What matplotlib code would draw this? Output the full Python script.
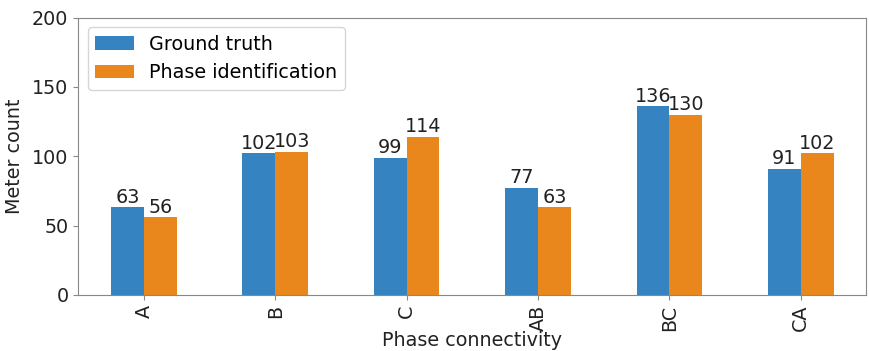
import matplotlib
matplotlib.use("Agg")
import matplotlib.pyplot as plt
import numpy as np

categories = ["A", "B", "C", "AB", "BC", "CA"]
ground_truth = [63, 102, 99, 77, 136, 91]
phase_identification = [56, 103, 114, 63, 130, 102]

blue = "#3584c1"
orange = "#e9871c"

fig = plt.figure(figsize=(8.69, 3.51), dpi=100)
ax = fig.add_axes([0.09, 0.16, 0.907, 0.79])

x = np.arange(len(categories))
w = 0.25
b1 = ax.bar(x - w / 2, ground_truth, w, color=blue, label="Ground truth")
b2 = ax.bar(x + w / 2, phase_identification, w, color=orange, label="Phase identification")

fs = 13.8
for bars in (b1, b2):
    for rect in bars:
        h = rect.get_height()
        ax.annotate(f"{int(h)}", (rect.get_x() + rect.get_width() / 2, h),
                    xytext=(0, 0.5), textcoords="offset points",
                    ha="center", va="bottom", fontsize=fs, color="#222222")

ax.set_xlim(-0.5, len(categories) - 0.5)
ax.set_ylim(0, 200)
ax.set_yticks([0, 50, 100, 150, 200])
ax.set_xticks(x)
ax.set_xticklabels(categories, rotation=90)
ax.tick_params(labelsize=fs, colors="#222222")
for s in ax.spines.values():
    s.set_color("#888888")
ax.tick_params(color="#888888")
ax.set_xlabel("Phase connectivity", fontsize=fs, color="#222222", labelpad=0)
ax.set_ylabel("Meter count", fontsize=fs, color="#222222", labelpad=6)
ax.legend(loc="upper left", fontsize=fs, frameon=True)

fig.savefig("out.png", dpi=100)
